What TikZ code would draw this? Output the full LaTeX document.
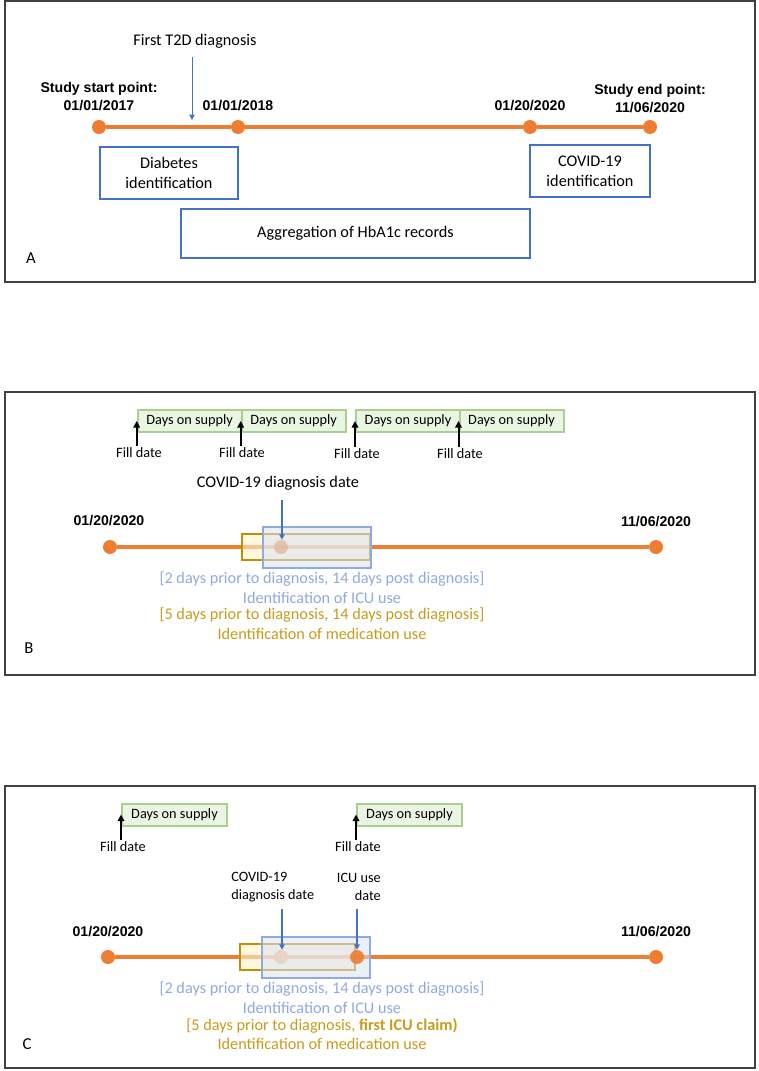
\documentclass[tikz,border=0pt]{standalone}
\usepackage{fontspec}
\setmainfont{Carlito}
\newfontfamily\arialfont{Liberation Sans}
\usetikzlibrary{arrows.meta}
\definecolor{tlorange}{HTML}{ED7D31}
\definecolor{framegray}{HTML}{404040}
\definecolor{boxblue}{HTML}{4472C4}
\definecolor{lightblue}{HTML}{8FAADC}
\definecolor{bluefill}{HTML}{DAE3F3}
\definecolor{goldline}{HTML}{BF9000}
\definecolor{goldtxt}{HTML}{C89B1A}
\definecolor{goldfill}{HTML}{FFF2CC}
\definecolor{greenline}{HTML}{A9D18E}
\definecolor{greenfill}{HTML}{EBF5E4}
\newcommand{\bigfs}{\fontsize{12.2}{15}\selectfont}
\newcommand{\smallfs}{\fontsize{10.7}{13.5}\selectfont}
\begin{document}
\begin{tikzpicture}[x=0.75pt,y=-0.75pt,
  panel/.style={draw=framegray, line width=1.1pt},
  dot/.style={circle, fill=tlorange, inner sep=0pt, minimum size=10.5pt},
  tl/.style={draw=tlorange, line width=3pt},
  datelbl/.style={font=\arialfont\bfseries\fontsize{10.6}{13.5}\selectfont, align=center, inner sep=0pt},
  idbox/.style={draw=boxblue, line width=0.8pt, align=center, font=\bigfs, inner sep=0pt},
  bigtxt/.style={font=\bigfs, inner sep=0pt},
  smalltxt/.style={font=\smallfs, inner sep=0pt},
  supplybox/.style={draw=greenline, fill=greenfill, line width=1.5pt, font=\smallfs, inner sep=0pt, minimum width=78pt, minimum height=16.5pt},
  fillarrow/.style={line width=1.5pt, -{Triangle[width=5pt,length=5pt]}},
  bluearrow/.style={draw=boxblue, line width=0.9pt, -{Triangle[width=4pt,length=4pt]}},
  goldbox/.style={draw=goldline, line width=1.5pt, fill=goldfill, fill opacity=0.6, inner sep=0pt},
  bluebox/.style={draw=lightblue, line width=1.5pt, fill=bluefill, fill opacity=0.55, inner sep=0pt},
  paneltag/.style={font=\fontsize{12.5}{15}\selectfont, inner sep=0pt}
]
\useasboundingbox (0,0) rectangle (758,1071);

%% ---------------- Panel A ----------------
\draw[panel] (5,1) rectangle (755,282);
\node[bigtxt] (t2dlbl) at (195,41) {First T2D diagnosis};
\node[datelbl] (startlbl) at (99,97) {Study start point:\\01/01/2017};
\node[datelbl] (d2018) at (238,106) {01/01/2018};
\node[datelbl] (d2020a) at (530,106) {01/20/2020};
\node[datelbl] (endlbl) at (650,99) {Study end point:\\11/06/2020};
\node[dot] (a1) at (99,127) {};
\node[dot] (a2) at (238,127) {};
\node[dot] (a3) at (530,127) {};
\node[dot] (a4) at (650,127) {};
\draw[tl] (a1) -- (a2);
\draw[tl] (a2) -- (a3);
\draw[tl] (a3) -- (a4);
\coordinate (t2d) at (192,120);
\draw[bluearrow, line width=0.7pt] (192,57) -- (t2d);
\node[idbox, minimum width=103.5pt, minimum height=39pt] (diab) at (169,173) {Diabetes\\identification};
\node[idbox, minimum width=90pt, minimum height=39pt] (covidid) at (590,171) {COVID-19\\identification};
\node[idbox, minimum width=261.75pt, minimum height=36.75pt] (hba) at (355.5,233.5) {Aggregation of HbA1c records};
\node[paneltag] (tagA) at (31,258) {A};

%% ---------------- Panel B ----------------
\draw[panel] (5,392) rectangle (755,675);
\node[supplybox] (g1) at (189.7,421) {Days on supply};
\node[supplybox] (g2) at (293.7,421) {Days on supply};
\node[supplybox] (g3) at (408,421) {Days on supply};
\node[supplybox] (g4) at (511.5,421) {Days on supply};
\node[smalltxt] (f1) at (139,453) {Fill date};
\node[smalltxt] (f2) at (242,453) {Fill date};
\node[smalltxt] (f3) at (357,454) {Fill date};
\node[smalltxt] (f4) at (460,454) {Fill date};
\draw[fillarrow] ([yshift=1pt]g1.west |- f1.north) -- (g1.west);
\draw[fillarrow] ([yshift=1pt]g2.west |- f2.north) -- (g2.west);
\draw[fillarrow] ([yshift=1pt]g3.west |- f3.north) -- (g3.west);
\draw[fillarrow] ([yshift=1pt]g4.west |- f4.north) -- (g4.west);
\node[bigtxt] (bcl) at (278,483) {COVID-19 diagnosis date};
\node[datelbl] (b20) at (109,521) {01/20/2020};
\node[datelbl] (b11) at (656,522) {11/06/2020};
\node[dot] (b1) at (110,547) {};
\node[dot] (b2) at (656,547) {};
\draw[tl] (b1) -- (b2);
\node[goldbox, minimum width=96pt, minimum height=19.5pt] (bgold) at (306,547) {};
\node[dot, opacity=0.75] (bc) at (281,547) {};
\node[bluebox, minimum width=81pt, minimum height=30.75pt] (bblue) at (317,547.5) {};
\coordinate (bcstart) at (282,500);
\draw[bluearrow] (bcstart) -- (bc.north -| bcstart);
\node[bigtxt, text=lightblue] (bt1) at (322,579) {[2 days prior to diagnosis, 14 days post diagnosis]};
\node[bigtxt, text=lightblue] (bt2) at (322,598) {Identification of ICU use};
\node[bigtxt, text=goldtxt] (bt3) at (322,615) {[5 days prior to diagnosis, 14 days post diagnosis]};
\node[bigtxt, text=goldtxt] (bt4) at (322,634) {Identification of medication use};
\node[paneltag] (tagB) at (29,648) {B};

%% ---------------- Panel C ----------------
\draw[panel] (5,786) rectangle (755,1068);
\node[supplybox, minimum width=78.75pt] (h1) at (174.5,814.5) {Days on supply};
\node[supplybox, minimum width=78.75pt] (h2) at (409.5,814.5) {Days on supply};
\node[smalltxt] (e1) at (123,847) {Fill date};
\node[smalltxt] (e2) at (358,847) {Fill date};
\draw[fillarrow] ([yshift=1pt]h1.west |- e1.north) -- (h1.west);
\draw[fillarrow] ([yshift=1pt]h2.west |- e2.north) -- (h2.west);
\node[smalltxt, align=left, anchor=west] (ccl) at (231,887) {COVID-19\\diagnosis date};
\node[smalltxt, align=right, anchor=east] (cil) at (381,887) {ICU use\\date};
\node[datelbl] (c20) at (108,932) {01/20/2020};
\node[datelbl] (c11) at (656,932) {11/06/2020};
\node[dot] (c1) at (108,957) {};
\node[dot] (c2) at (656,957) {};
\draw[tl] (c1) -- (c2);
\node[dot] (cc) at (281,957) {};
\node[goldbox, minimum width=86.25pt, minimum height=19.5pt] (cgold) at (297.5,957) {};
\node[bluebox, minimum width=81pt, minimum height=30.75pt] (cblue) at (316,957.5) {};
\node[dot, opacity=0.9] (ci) at (357,957) {};
\coordinate (ccstart) at (282,909);
\coordinate (cistart) at (357,909);
\draw[bluearrow] (ccstart) -- (cc.north -| ccstart);
\draw[bluearrow] (cistart) -- (ci.north);
\node[bigtxt, text=lightblue] (ct1) at (322,989) {[2 days prior to diagnosis, 14 days post diagnosis]};
\node[bigtxt, text=lightblue] (ct2) at (322,1008) {Identification of ICU use};
\node[bigtxt, text=goldtxt] (ct3) at (322,1026) {[5 days prior to diagnosis, \textbf{first ICU claim)}};
\node[bigtxt, text=goldtxt] (ct4) at (322,1044) {Identification of medication use};
\node[paneltag] (tagC) at (27,1044) {C};
\end{tikzpicture}
\end{document}
